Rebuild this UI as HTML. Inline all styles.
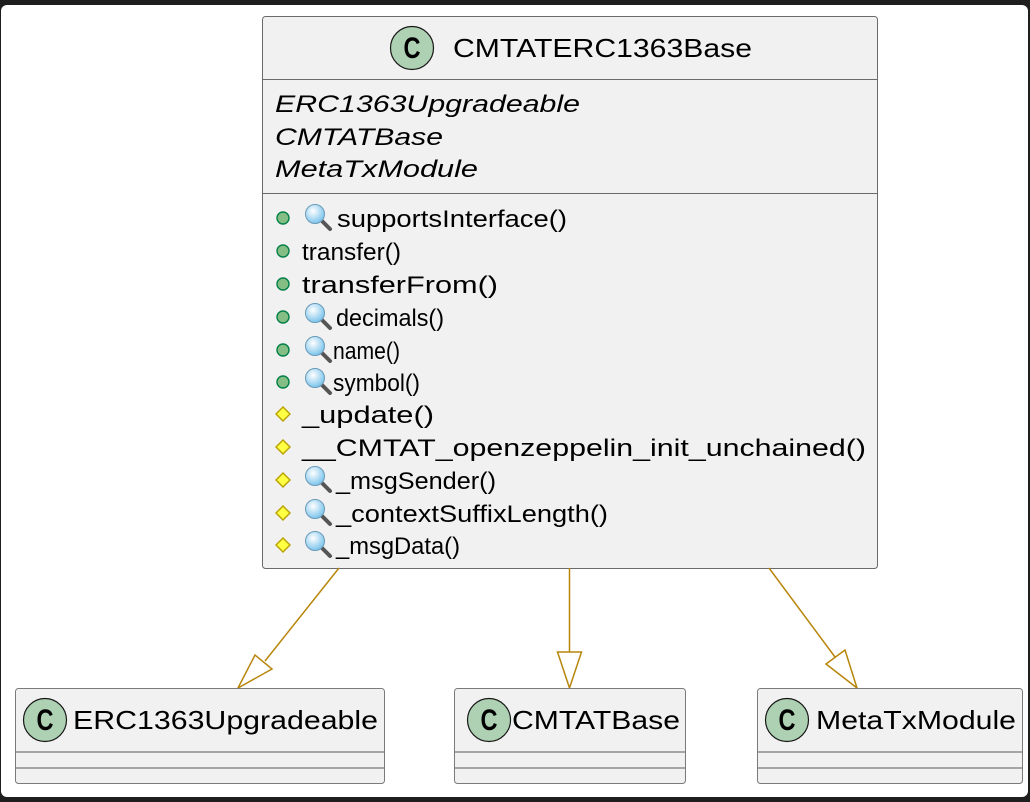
<!DOCTYPE html>
<html><head><meta charset="utf-8"><style>html,body{margin:0;padding:0;background:#1e1e1e}svg{display:block}</style></head>
<body>
<svg width="1030" height="802" viewBox="0 0 1030 802" xmlns="http://www.w3.org/2000/svg" font-family="Liberation Sans, sans-serif">
<defs>
<radialGradient id="g" cx="40%" cy="35%" r="65%"><stop offset="0" stop-color="#ffffff"/><stop offset="1" stop-color="#7cc4ec"/></radialGradient>
<g id="mag"><line x1="6" y1="6" x2="15" y2="15" stroke="#555" stroke-width="4" stroke-linecap="round"/><circle cx="0" cy="0" r="9.5" fill="url(#g)" stroke="#6a9ab8" stroke-width="1"/></g>
<g id="pub"><circle cx="0" cy="0" r="6" fill="#84be84" stroke="#038048" stroke-width="1.4"/></g>
<g id="prot"><polygon points="0,-7 7,0 0,7 -7,0" fill="#ffff44" stroke="#b8a000" stroke-width="1.4"/></g>
</defs>
<rect x="1" y="5" width="1027" height="792" rx="6" fill="#ffffff"/>

<rect x="262.5" y="16.5" width="615" height="552" rx="3" fill="#f1f1f1" stroke="#6a6a6a" stroke-width="1"/>
<circle cx="412" cy="48" r="21.5" fill="#add1b2" stroke="#181818" stroke-width="1.2"/>
<text x="412" y="58" text-anchor="middle" font-size="30" font-weight="bold" fill="#000" textLength="17" lengthAdjust="spacingAndGlyphs">C</text>
<text x="453" y="57" font-size="26" fill="#000" textLength="299" lengthAdjust="spacingAndGlyphs">CMTATERC1363Base</text>
<line x1="263" y1="79.5" x2="877" y2="79.5" stroke="#6a6a6a"/>
<g font-size="24" font-style="italic" fill="#000">
<text x="275" y="112" textLength="305" lengthAdjust="spacingAndGlyphs">ERC1363Upgradeable</text>
<text x="275" y="145" textLength="168" lengthAdjust="spacingAndGlyphs">CMTATBase</text>
<text x="275" y="177" textLength="203" lengthAdjust="spacingAndGlyphs">MetaTxModule</text>
</g>
<line x1="263" y1="193.5" x2="877" y2="193.5" stroke="#6a6a6a"/>

<g font-size="24" fill="#000">
<use href="#pub" x="283" y="218"/><use href="#mag" x="315" y="214"/>
<text x="337" y="227" textLength="230" lengthAdjust="spacingAndGlyphs">supportsInterface()</text>
<use href="#pub" x="283" y="251"/>
<text x="302" y="260" textLength="99" lengthAdjust="spacingAndGlyphs">transfer()</text>
<use href="#pub" x="283" y="284"/>
<text x="302" y="293" textLength="196" lengthAdjust="spacingAndGlyphs">transferFrom()</text>
<use href="#pub" x="283" y="317"/><use href="#mag" x="315" y="313"/>
<text x="336" y="326" textLength="108" lengthAdjust="spacingAndGlyphs">decimals()</text>
<use href="#pub" x="283" y="350"/><use href="#mag" x="315" y="346"/>
<text x="333" y="359" textLength="67" lengthAdjust="spacingAndGlyphs">name()</text>
<use href="#pub" x="283" y="382"/><use href="#mag" x="315" y="378"/>
<text x="333" y="391" textLength="87" lengthAdjust="spacingAndGlyphs">symbol()</text>
<use href="#prot" x="283" y="414"/>
<text x="302" y="423" textLength="132" lengthAdjust="spacingAndGlyphs">_update()</text>
<use href="#prot" x="283" y="447"/>
<text x="302" y="456" textLength="564" lengthAdjust="spacingAndGlyphs">__CMTAT_openzeppelin_init_unchained()</text>
<use href="#prot" x="283" y="480"/><use href="#mag" x="315" y="476"/>
<text x="336" y="489" textLength="160" lengthAdjust="spacingAndGlyphs">_msgSender()</text>
<use href="#prot" x="283" y="513"/><use href="#mag" x="315" y="509"/>
<text x="336" y="522" textLength="272" lengthAdjust="spacingAndGlyphs">_contextSuffixLength()</text>
<use href="#prot" x="283" y="545"/><use href="#mag" x="315" y="541"/>
<text x="336" y="554" textLength="124" lengthAdjust="spacingAndGlyphs">_msgData()</text>
</g>

<g stroke="#b8860b" stroke-width="1.5" fill="none">
<line x1="339" y1="568" x2="265" y2="661"/>
<polygon points="238,688 255,655 272,669" fill="#ffffff"/>
<line x1="569.5" y1="568" x2="569.5" y2="652"/>
<polygon points="569.5,688 557.5,652 581.5,652" fill="#ffffff"/>
<line x1="769" y1="568" x2="835" y2="657"/>
<polygon points="857,688 826,664 845,650" fill="#ffffff"/>
</g>

<g>
<rect x="15.5" y="688.5" width="369" height="95" rx="3" fill="#f1f1f1" stroke="#7a7a7a"/>
<circle cx="45" cy="720" r="21.5" fill="#add1b2" stroke="#181818" stroke-width="1.2"/>
<text x="45" y="730" text-anchor="middle" font-size="30" font-weight="bold" textLength="17" lengthAdjust="spacingAndGlyphs">C</text>
<text x="73" y="729" font-size="26" textLength="305" lengthAdjust="spacingAndGlyphs">ERC1363Upgradeable</text>
<line x1="16" y1="752" x2="384" y2="752" stroke="#7a7a7a" stroke-width="1.2"/>
<line x1="16" y1="768" x2="384" y2="768" stroke="#7a7a7a" stroke-width="1.2"/>

<rect x="454.5" y="688.5" width="231" height="95" rx="3" fill="#f1f1f1" stroke="#7a7a7a"/>
<circle cx="489" cy="720" r="21.5" fill="#add1b2" stroke="#181818" stroke-width="1.2"/>
<text x="489" y="730" text-anchor="middle" font-size="30" font-weight="bold" textLength="17" lengthAdjust="spacingAndGlyphs">C</text>
<text x="512" y="729" font-size="26" textLength="168" lengthAdjust="spacingAndGlyphs">CMTATBase</text>
<line x1="455" y1="752" x2="685" y2="752" stroke="#7a7a7a" stroke-width="1.2"/>
<line x1="455" y1="768" x2="685" y2="768" stroke="#7a7a7a" stroke-width="1.2"/>

<rect x="757.5" y="688.5" width="265" height="95" rx="3" fill="#f1f1f1" stroke="#7a7a7a"/>
<circle cx="787" cy="720" r="21.5" fill="#add1b2" stroke="#181818" stroke-width="1.2"/>
<text x="787" y="730" text-anchor="middle" font-size="30" font-weight="bold" textLength="17" lengthAdjust="spacingAndGlyphs">C</text>
<text x="816" y="729" font-size="26" textLength="200" lengthAdjust="spacingAndGlyphs">MetaTxModule</text>
<line x1="758" y1="752" x2="1022" y2="752" stroke="#7a7a7a" stroke-width="1.2"/>
<line x1="758" y1="768" x2="1022" y2="768" stroke="#7a7a7a" stroke-width="1.2"/>
</g>
</svg>
</body></html>
